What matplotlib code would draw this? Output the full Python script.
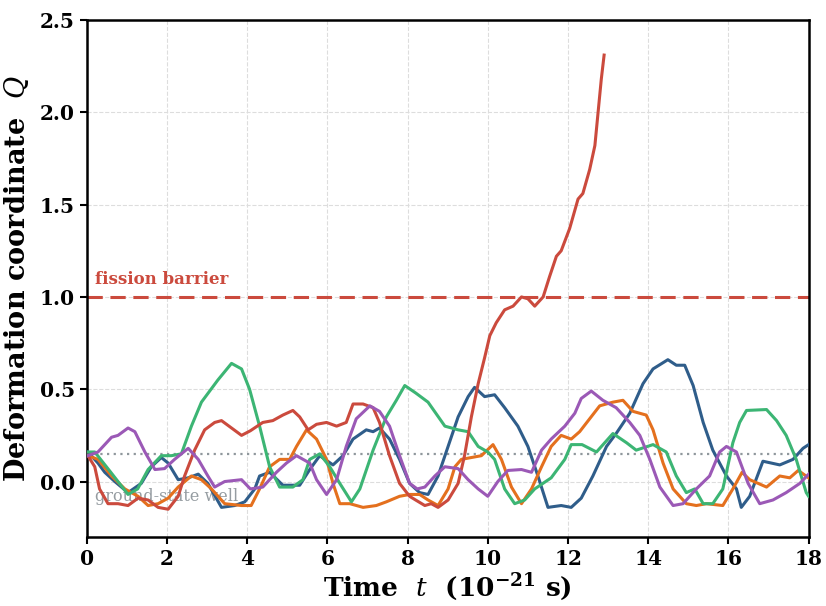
import matplotlib as mpl
mpl.use('Agg')
import matplotlib.pyplot as plt
import numpy as np

# values
blue_t = [0.03, 0.28, 0.45, 0.7, 1.03, 1.36, 1.61, 1.86, 2.03, 2.28, 2.53, 2.78, 3.02, 3.36, 3.69, 3.94,
          4.19, 4.31, 4.56, 4.89, 5.31, 5.56, 5.81, 6.14, 6.39, 6.64, 6.97, 7.14, 7.3, 7.55, 7.8, 8.05,
          8.3, 8.51, 8.76, 9.01, 9.26, 9.51, 9.67, 9.92, 10.17, 10.42, 10.75, 11.0, 11.25, 11.5, 11.83,
          12.08, 12.33, 12.62, 12.96, 13.2, 13.54, 13.87, 14.12, 14.49, 14.7, 14.91, 15.12, 15.37,
          15.61, 15.95, 16.2, 16.32, 16.53, 16.86, 17.28, 17.61, 17.86, 18.0]
blue_q = [0.16, 0.10, 0.05, 0.00, -0.06, -0.01, 0.08, 0.13, 0.10, 0.01, 0.02, 0.04, -0.01, -0.14, -0.13, -0.11,
          -0.04, 0.03, 0.05, -0.02, -0.02, 0.065, 0.14, 0.09, 0.14, 0.23, 0.28, 0.27, 0.29, 0.23, 0.12, -0.01,
          -0.06, -0.07, 0.03, 0.19, 0.35, 0.46, 0.51, 0.46, 0.47, 0.40, 0.30, 0.19, 0.03, -0.14, -0.13,
          -0.14, -0.09, 0.03, 0.19, 0.26, 0.37, 0.53, 0.61, 0.66, 0.63, 0.63, 0.52, 0.32,
          0.17, 0.03, -0.04, -0.14, -0.08, 0.11, 0.09, 0.12, 0.18, 0.20]

orange_t = [0.03, 0.28, 0.62, 0.95, 1.28, 1.53, 1.78, 2.03, 2.28, 2.61, 2.86, 3.11, 3.44, 3.86, 4.1,
            4.31, 4.56, 4.81, 5.06, 5.23, 5.48, 5.73, 5.98, 6.14, 6.31, 6.56, 6.89, 7.22, 7.47, 7.8,
            8.05, 8.3, 8.51, 8.76, 9.01, 9.18, 9.34, 9.59, 9.84, 10.13, 10.34, 10.59, 10.84, 11.09,
            11.34, 11.58, 11.83, 12.08, 12.29, 12.54, 12.79, 13.12, 13.37, 13.62, 13.95, 14.12, 14.37,
            14.62, 14.95, 15.2, 15.45, 15.86, 16.11, 16.34, 16.53, 16.95, 17.28, 17.53, 17.74, 18.0]
orange_q = [0.14, 0.12, 0.03, -0.04, -0.08, -0.13, -0.12, -0.09, -0.03, 0.03, 0.01, -0.04, -0.12, -0.13, -0.13,
            -0.04, 0.08, 0.12, 0.12, 0.19, 0.28, 0.23, 0.12, -0.01, -0.12, -0.12, -0.14, -0.13, -0.11, -0.08,
            -0.07, -0.07, -0.10, -0.13, -0.04, 0.08, 0.12, 0.13, 0.14, 0.20, 0.12, -0.03, -0.12, -0.04,
            0.08, 0.19, 0.25, 0.23, 0.27, 0.34, 0.41, 0.43, 0.44, 0.38, 0.36, 0.28, 0.10,
            -0.04, -0.12, -0.13, -0.12, -0.13, -0.04, 0.05, 0.01, -0.03, 0.03, 0.02, 0.06, 0.02]

green_t = [0.03, 0.2, 0.6, 1.03, 1.27, 1.53, 1.86, 2.11, 2.36, 2.61, 2.86, 3.27, 3.61, 3.86, 4.06,
           4.31, 4.56, 4.81, 5.14, 5.39, 5.56, 5.81, 6.06, 6.31, 6.6, 6.81, 7.14, 7.47, 7.72, 7.93,
           8.2, 8.51, 8.93, 9.26, 9.51, 9.76, 10.0, 10.17, 10.42, 10.67, 10.92, 11.17, 11.58, 11.92,
           12.08, 12.35, 12.71, 13.12, 13.46, 13.7, 14.12, 14.45, 14.7, 14.95, 15.16, 15.37, 15.61,
           15.86, 16.11, 16.28, 16.45, 16.95, 17.2, 17.44, 17.69, 17.94, 18.0]
green_q = [0.16, 0.16, 0.05, -0.07, -0.04, 0.065, 0.14, 0.14, 0.15, 0.30, 0.43, 0.55, 0.64, 0.61, 0.50,
           0.30, 0.08, -0.03, -0.03, 0.01, 0.12, 0.15, 0.08, -0.01, -0.11, -0.04, 0.17, 0.35, 0.44, 0.52,
           0.48, 0.43, 0.30, 0.28, 0.27, 0.19, 0.16, 0.12, -0.04, -0.12, -0.10, -0.04, 0.02, 0.12,
           0.20, 0.20, 0.16, 0.26, 0.21, 0.17, 0.20, 0.16, 0.03, -0.06, -0.04, -0.12, -0.12,
           -0.04, 0.21, 0.32, 0.385, 0.39, 0.33, 0.25, 0.12, -0.06, -0.08]

red_t = [0.03, 0.2, 0.32, 0.53, 0.78, 1.03, 1.28, 1.53, 1.78, 2.03, 2.28, 2.44, 2.69, 2.94, 3.19, 3.36,
         3.61, 3.86, 4.08, 4.39, 4.64, 4.89, 5.14, 5.31, 5.52, 5.73, 5.98, 6.23, 6.47, 6.64, 6.89, 7.14,
         7.3, 7.55, 7.8, 8.05, 8.2, 8.43, 8.59, 8.76, 9.01, 9.26, 9.42, 9.59, 9.76, 9.92, 10.05, 10.21,
         10.42, 10.63, 10.84, 11.0, 11.17, 11.38, 11.54, 11.71, 11.83, 12.04, 12.25, 12.37, 12.54,
         12.67, 12.75, 12.83, 12.9]
red_q = [0.14, 0.08, -0.04, -0.12, -0.12, -0.13, -0.09, -0.10, -0.14, -0.15, -0.08, 0.03, 0.17, 0.28, 0.32, 0.33,
         0.29, 0.25, 0.275, 0.32, 0.33, 0.36, 0.385, 0.35, 0.28, 0.31, 0.32, 0.30, 0.32, 0.42, 0.42, 0.40,
         0.32, 0.14, -0.01, -0.08, -0.10, -0.13, -0.12, -0.14, -0.10, -0.01, 0.14, 0.35, 0.53, 0.67, 0.79, 0.86,
         0.93, 0.95, 1.00, 0.99, 0.95, 1.00, 1.11, 1.22, 1.25, 1.37, 1.53, 1.56, 1.69,
         1.82, 2.00, 2.18, 2.31]

purple_t = [0.03, 0.28, 0.62, 0.78, 1.03, 1.2, 1.45, 1.7, 1.94, 2.19, 2.53, 2.78, 3.02, 3.19, 3.44, 3.86,
            4.08, 4.39, 4.73, 4.98, 5.23, 5.56, 5.73, 5.98, 6.23, 6.47, 6.72, 7.06, 7.3, 7.55, 7.8, 8.05,
            8.24, 8.43, 8.68, 8.93, 9.26, 9.51, 9.76, 10.0, 10.25, 10.5, 10.84, 11.09, 11.34, 11.58,
            11.92, 12.17, 12.33, 12.58, 12.87, 13.2, 13.54, 13.79, 14.04, 14.29, 14.62, 14.87, 15.2,
            15.53, 15.78, 15.95, 16.2, 16.49, 16.78, 17.11, 17.44, 17.78, 18.0]
purple_q = [0.14, 0.16, 0.24, 0.25, 0.29, 0.27, 0.16, 0.065, 0.07, 0.12, 0.18, 0.12, 0.03, -0.03, 0.00, 0.01,
            -0.04, -0.03, 0.05, 0.10, 0.14, 0.10, 0.01, -0.07, 0.01, 0.19, 0.34, 0.41, 0.38, 0.30, 0.14, -0.01,
            -0.04, -0.03, 0.03, 0.08, 0.07, 0.01, -0.04, -0.08, 0.00, 0.06, 0.065, 0.05, 0.17, 0.23,
            0.30, 0.37, 0.45, 0.49, 0.44, 0.40, 0.32, 0.25, 0.12, -0.03, -0.13, -0.12, -0.04,
            0.03, 0.16, 0.19, 0.16, -0.01, -0.12, -0.10, -0.06, -0.01, 0.04]

barrier = 1.0
ground = 0.15

series = [
    (blue_t, blue_q, '#2f5d8a'),
    (orange_t, orange_q, '#e4701e'),
    (green_t, green_q, '#3cb574'),
    (red_t, red_q, '#cb4a3d'),
    (purple_t, purple_q, '#9b59b6'),
]

plt.rcParams['font.family'] = 'DejaVu Serif'
plt.rcParams['mathtext.fontset'] = 'dejavuserif'

fig = plt.figure(figsize=(8.26, 6.06), dpi=100)
ax = fig.add_axes([0.105, 0.114, 0.874, 0.853])

for t, q, col in series:
    ax.plot(t, q, color=col, lw=2.2, zorder=3)

ax.axhline(barrier, color='#cb4a3d', lw=2.2, ls=(0, (5, 2.5)), zorder=2)
ax.axhline(ground, color='#8f979c', lw=1.6, ls=(0, (1, 2)), zorder=2)
ax.text(0.2, 1.05, 'fission barrier', color='#cb4a3d', fontsize=12, fontweight='bold',
        va='bottom', ha='left')
ax.text(0.2, -0.08, 'ground-state well', color='#959ca1', fontsize=11.5,
        va='center', ha='left', zorder=1)

ax.set_xlim(0, 18)
ax.set_ylim(-0.3, 2.5)
ax.set_xticks(np.arange(0, 19, 2))
ax.set_yticks([0.0, 0.5, 1.0, 1.5, 2.0, 2.5])
ax.grid(True, ls='--', color='#dddddd', lw=0.8)
ax.set_axisbelow(True)
for s in ax.spines.values():
    s.set_linewidth(1.8)
ax.tick_params(direction='out', length=5, width=1.5, labelsize=14.5)
for lab in ax.get_xticklabels() + ax.get_yticklabels():
    lab.set_fontweight('bold')

ax.set_xlabel(r'Time  $t$  ($\mathbf{10^{-21}}$ s)', fontsize=19, fontweight='bold', labelpad=2)
ax.set_ylabel(r'Deformation coordinate  $Q$', fontsize=19.5, fontweight='bold', labelpad=6)

fig.savefig('out.png', dpi=100)
